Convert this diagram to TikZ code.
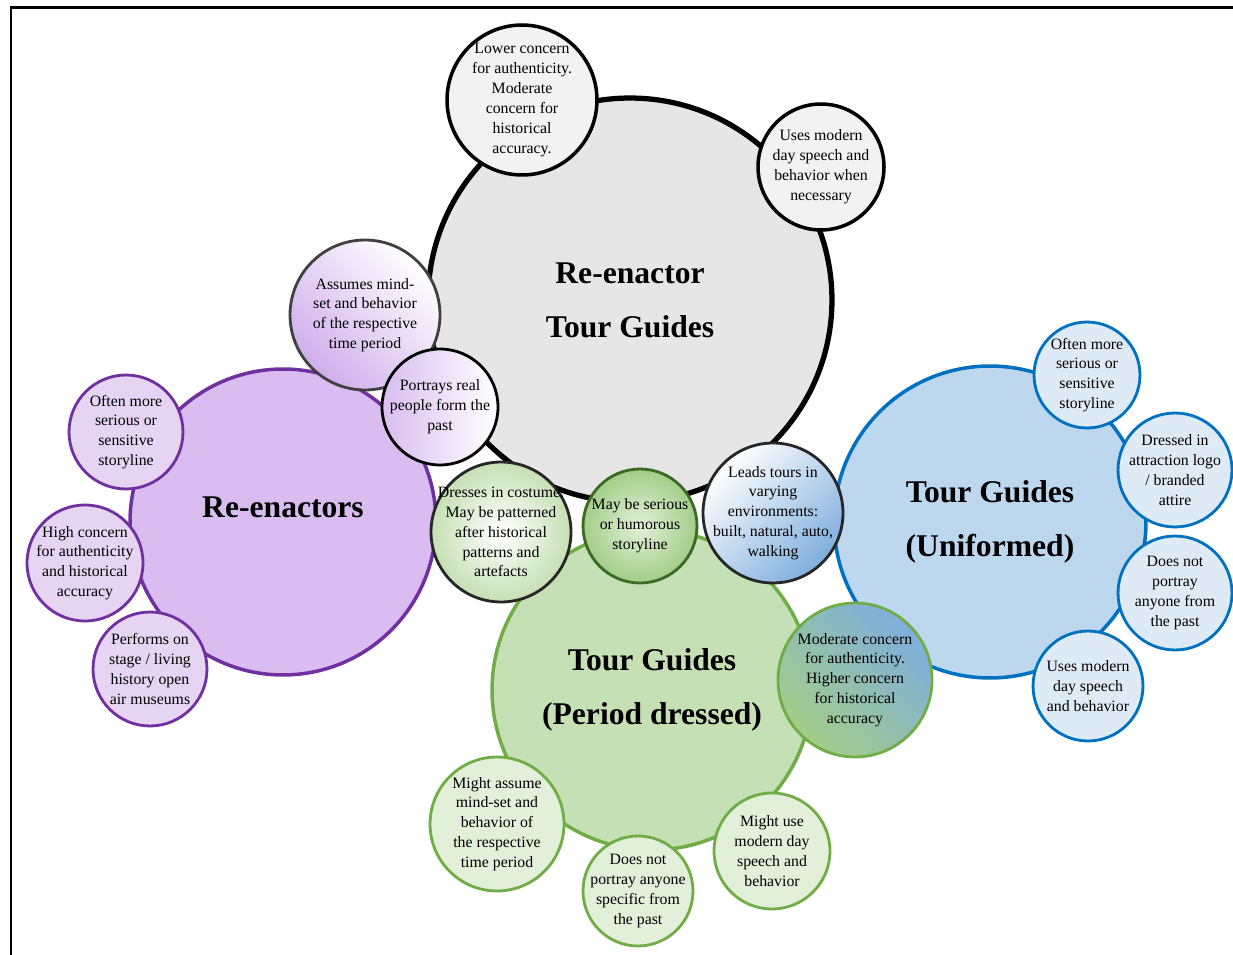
\documentclass[tikz,border=0pt]{standalone}
\usepackage{fontspec}
\setmainfont{Liberation Serif}
\usepackage{tikz}
\definecolor{reGrey}{HTML}{E6E6E6}
\definecolor{reGreyLt}{HTML}{F2F2F2}
\definecolor{enPurple}{HTML}{7030A0}
\definecolor{enFill}{HTML}{D9BDF0}
\definecolor{enFillLt}{HTML}{E6D4F3}
\definecolor{enMid}{HTML}{CFAEEB}
\definecolor{pdGreen}{HTML}{70AD47}
\definecolor{pdDark}{HTML}{3B6B23}
\definecolor{pdFill}{HTML}{C5E0B4}
\definecolor{pdFillLt}{HTML}{E2F0D9}
\definecolor{pdMid}{HTML}{A3CD88}
\definecolor{unBlue}{HTML}{0070C0}
\definecolor{unMid}{HTML}{7FAEDD}
\definecolor{unFill}{HTML}{BDD7EE}
\definecolor{unFillLt}{HTML}{DEEBF7}

\begin{document}
\begin{tikzpicture}[
x={(0.02cm,0)},y={(0,-0.02cm)},
every node/.style={font=\fontsize{9}{11.3}\selectfont,align=center,inner sep=0pt},
big/.style={circle,line width=2pt,minimum size=#1},
bub/.style={circle,line width=1.6pt,minimum size=#1},
title/.style={font=\fontsize{18}{30.6}\selectfont\bfseries}
]
\useasboundingbox (0,0) rectangle (1233,955);
\draw[line width=1.7pt] (11,955) -- (11,8) -- (1233,8);

% main circles
\node[big=8.08cm,draw=black,line width=3pt,fill=reGrey,
  label={[title]center:{Re-enactor\\Tour Guides}}] (retg) at (630,300) {};
\node[big=6.12cm,draw=enPurple,fill=enFill,
  label={[title,yshift=0.3cm]center:{Re-enactors}}] (reen) at (283,522) {};
\node[big=6.4cm,draw=pdGreen,fill=pdFill,
  label={[title]center:{Tour Guides\\(Period dressed)}}] (tgpd) at (652,690) {};
\node[big=6.24cm,draw=unBlue,fill=unFill,
  label={[title]center:{Tour Guides\\(Uniformed)}}] (tgu) at (990,522) {};

% re-enactor tour guides
\node[bub=3cm,draw=black,line width=2pt,fill=reGreyLt,
  label={center:{Lower concern\\for authenticity.\\Moderate\\concern for\\historical\\accuracy.}}] (relow) at (522,100) {};
\node[bub=2.52cm,draw=black,line width=2pt,fill=reGreyLt,
  label={center:{Uses modern\\day speech and\\behavior when\\necessary}}] (reuse) at (821,167) {};

% shared
\node[bub=3cm,draw=black!75,top color=white,bottom color=enMid,shading angle=-45,
  label={center:{Assumes mind-\\set and behavior\\of the respective\\time period}}] (shassume) at (365,315) {};
\node[bub=2.32cm,draw=black,left color=enFill,right color=white,
  label={center:{Portrays real\\people form the\\past}}] (shreal) at (440,407) {};
\node[bub=2.8cm,draw=black!85,shading=radial,inner color=white,outer color=pdFill,
  label={center:{Dresses in costume.\\May be patterned\\after historical\\patterns and\\artefacts}}] (shdress) at (501,532) {};
\node[bub=2.28cm,draw=pdDark,shading=radial,inner color=pdFillLt,outer color=pdMid,
  label={center:{May be serious\\or humorous\\storyline}}] (shstory) at (640,526) {};
\node[bub=2.8cm,draw=black!85,top color=white,middle color=pdFillLt,bottom color=unMid,shading angle=45,
  label={center:{Leads tours in\\varying\\environments:\\built, natural, auto,\\walking}}] (shlead) at (773,513) {};
\node[bub=3.08cm,draw=pdGreen,top color=unMid,middle color=pdFillLt,bottom color=pdMid,shading angle=-45,
  label={center:{Moderate concern\\for authenticity.\\Higher concern\\for historical\\accuracy}}] (shmod) at (855,680) {};

% re-enactors
\node[bub=2.28cm,draw=enPurple,fill=enFillLt,
  label={center:{Often more\\serious or\\sensitive\\storyline}}] (enserious) at (126,432) {};
\node[bub=2.32cm,draw=enPurple,fill=enFillLt,
  label={center:{High concern\\for authenticity\\and historical\\accuracy}}] (enhigh) at (85,563) {};
\node[bub=2.28cm,draw=enPurple,fill=enFillLt,
  label={center:{Performs on\\stage / living\\history open\\air museums}}] (enstage) at (150,669) {};

% uniformed
\node[bub=2.12cm,draw=unBlue,fill=unFillLt,
  label={center:{Often more\\serious or\\sensitive\\storyline}}] (unserious) at (1087,375) {};
\node[bub=2.28cm,draw=unBlue,fill=unFillLt,
  label={center:{Dressed in\\attraction logo\\/ branded\\attire}}] (unlogo) at (1175,470) {};
\node[bub=2.28cm,draw=unBlue,fill=unFillLt,
  label={center:{Does not\\portray\\anyone from\\the past}}] (unnone) at (1175,593) {};
\node[bub=2.2cm,draw=unBlue,fill=unFillLt,
  label={center:{Uses modern\\day speech\\and behavior}}] (unuse) at (1088,686) {};

% period dressed
\node[bub=2.68cm,draw=pdGreen,fill=pdFillLt,
  label={center:{Might assume\\mind-set and\\behavior of\\the respective\\time period}}] (pdassume) at (497,824) {};
\node[bub=2.2cm,draw=pdGreen,fill=pdFillLt,
  label={center:{Does not\\portray anyone\\specific from\\the past}}] (pdnone) at (638,891) {};
\node[bub=2.32cm,draw=pdGreen,fill=pdFillLt,
  label={center:{Might use\\modern day\\speech and\\behavior}}] (pduse) at (772,851) {};
\end{tikzpicture}
\end{document}
